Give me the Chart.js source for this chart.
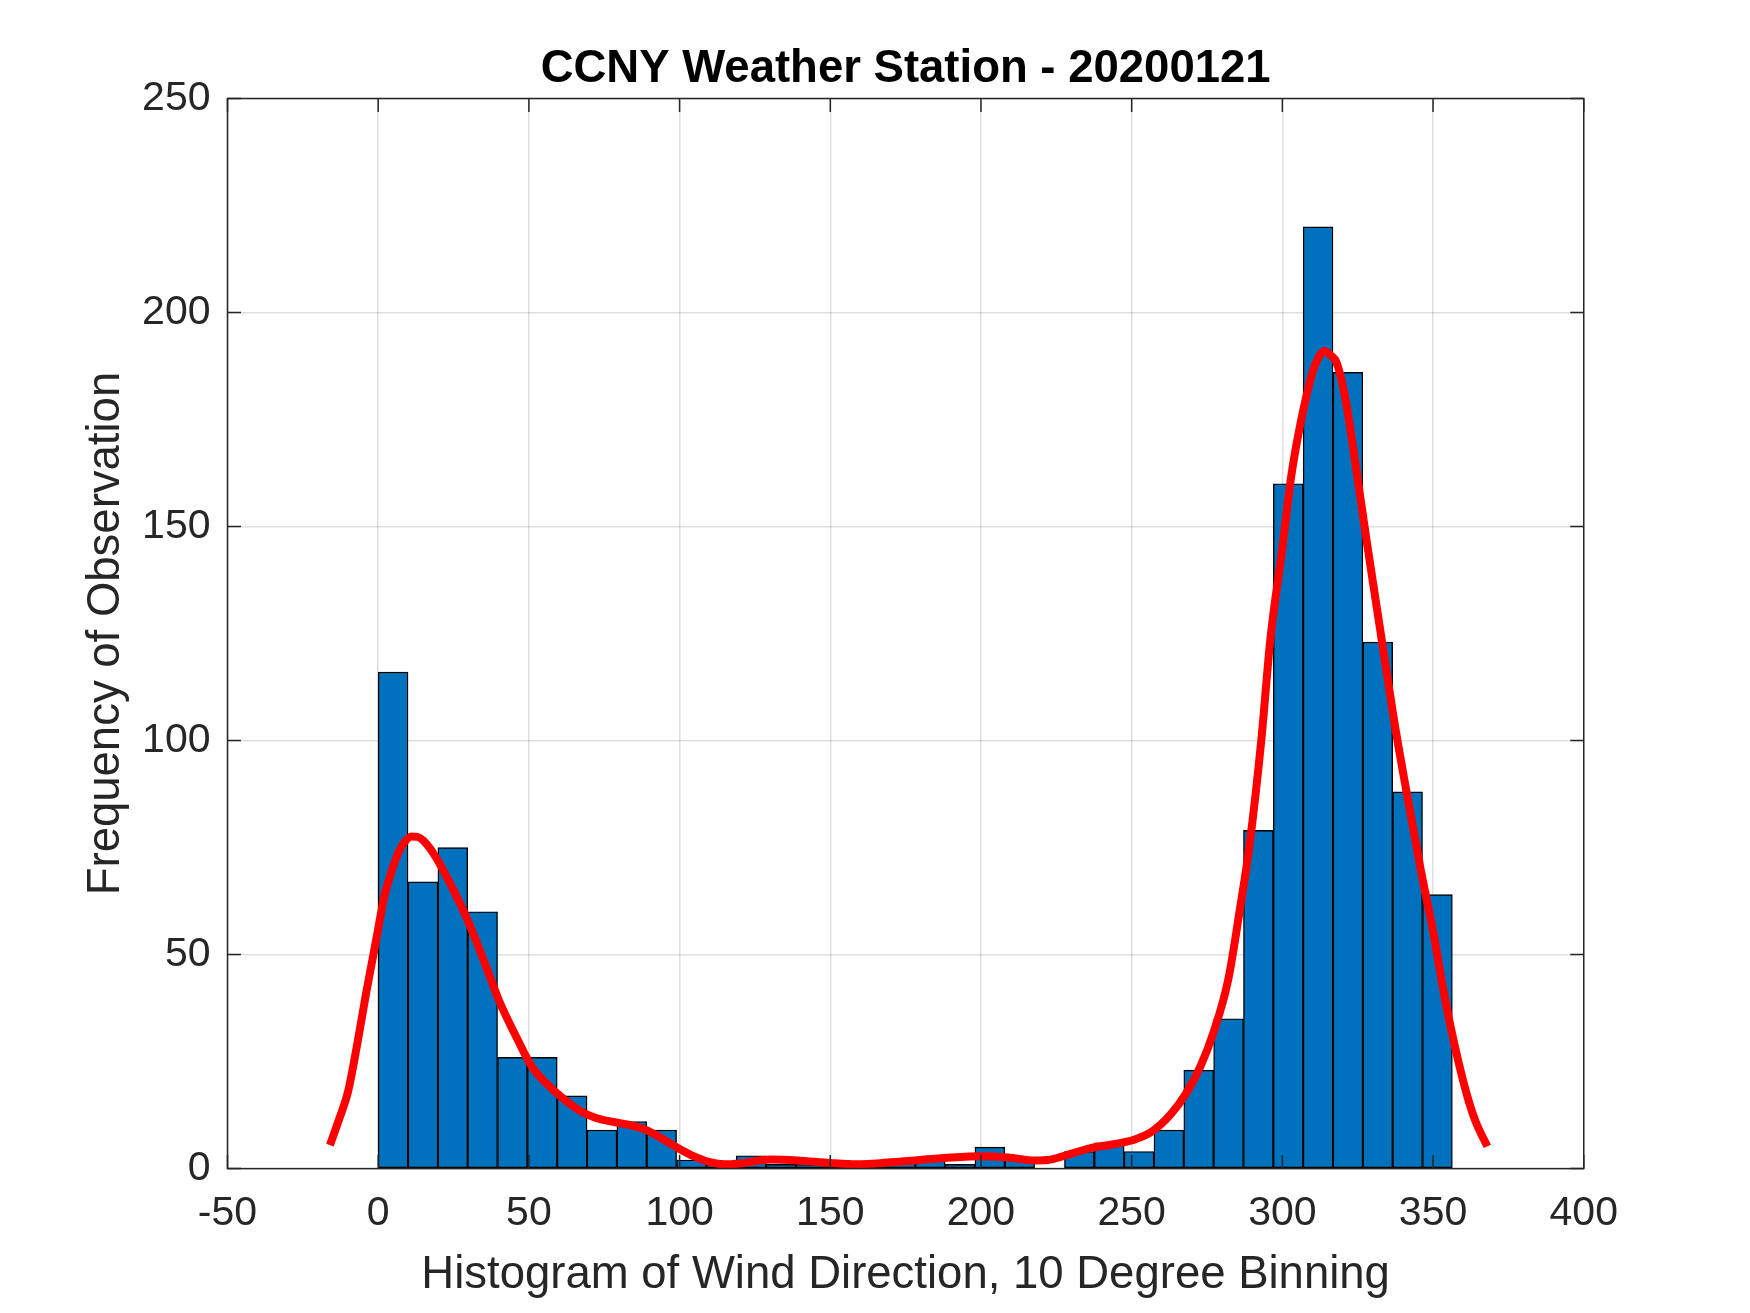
<!DOCTYPE html>
<html>
<head>
<meta charset="utf-8">
<title>CCNY Weather Station - 20200121</title>
<script src="https://cdn.jsdelivr.net/npm/chart.js@4.4.1/dist/chart.umd.min.js"></script>
<style>
  html, body { margin: 0; padding: 0; background: #fff; }
  canvas { display: block; }
</style>
</head>
<body>
<canvas id="grafico" width="1750" height="1313"></canvas>
<script>
// conteggi per ciascun bin (0..360, 36 bin)
const counts = [116, 67, 75, 60, 26, 26, 17, 9, 11, 9,
                2, 1, 3, 1, 1, 1, 1, 2, 2, 1,
                5, 2, 0, 4, 6, 4, 9, 23, 35, 79,
                160, 220, 186, 123, 88, 64];
const binStart = 0;
const binWidth = 9.9;

// curva di densita (stima kernel)
const kdeX = [-16, -13, -10, -7, -4, -2, 0, 2, 4, 7, 9, 11, 13, 15, 19, 25, 30, 36, 40, 46,
              51, 57, 61, 67, 72, 78, 84, 89, 95, 100, 105, 110, 115, 120, 130, 139, 150, 159, 169, 178,
              190, 200, 209, 218, 223, 230, 237, 244, 251, 257, 263, 268, 273, 277, 282, 286, 289, 293, 296, 300,
              303, 306, 310, 312, 314, 316, 318, 321, 325, 328, 332, 337, 341, 346, 350, 354, 357, 361, 364, 368];
const kdeY = [5.5, 11.5, 18, 28.9, 41, 48.5, 56, 63.5, 68.5, 74.3, 76.5, 77.6, 77.5, 76.6, 72.9, 65, 57.5, 46.8, 39.4, 30.5,
              23.8, 19.1, 16.6, 13.5, 11.9, 10.9, 10.1, 9, 6.7, 4.6, 2.8, 1.5, 1.0, 1.2, 2.1, 1.9, 1.3, 1.0, 1.4, 1.9,
              2.6, 2.9, 2.6, 1.9, 2.1, 3.5, 4.9, 5.7, 6.8, 8.8, 12.7, 17.5, 24.2, 31.5, 44, 61, 75, 100, 123.5, 145,
              162, 174, 186, 189.5, 191, 190, 188.3, 179.5, 161, 146.5, 128, 105, 88.8, 69.5, 55.5, 39.5, 29.3, 17.8, 11.2, 5.2];

const xMin = -50, xMax = 400, xStep = 50;
const yMin = 0, yMax = 250, yStep = 50;

const titleText = 'CCNY Weather Station - 20200121';
const xLabel = 'Histogram of Wind Direction, 10 Degree Binning';
const yLabel = 'Frequency of Observation';

const FONT = "'Liberation Sans', Arial, Helvetica, sans-serif";
const AXIS_COLOR = '#262626';
const TICK_LEN = 13.5;

// box e tacche interne come in MATLAB
const boxTicks = {
    id: 'boxTicks',
    afterDatasetsDraw(chart) {
        const { ctx, chartArea: a, scales: { x, y } } = chart;
        ctx.save();
        ctx.strokeStyle = AXIS_COLOR;
        ctx.lineWidth = 1.5;
        ctx.beginPath();
        x.ticks.forEach(t => {
            const px = x.getPixelForValue(t.value);
            ctx.moveTo(px, a.bottom); ctx.lineTo(px, a.bottom - TICK_LEN);
            ctx.moveTo(px, a.top); ctx.lineTo(px, a.top + TICK_LEN);
        });
        y.ticks.forEach(t => {
            const py = y.getPixelForValue(t.value);
            ctx.moveTo(a.left, py); ctx.lineTo(a.left + TICK_LEN, py);
            ctx.moveTo(a.right, py); ctx.lineTo(a.right - TICK_LEN, py);
        });
        ctx.stroke();
        ctx.strokeRect(a.left, a.top, a.right - a.left, a.bottom - a.top);
        ctx.restore();
    }
};

const barData = counts.map((c, i) => ({ x: binStart + (i + 0.5) * binWidth, y: c }));
const lineData = kdeX.map((v, i) => ({ x: v, y: kdeY[i] }));

const ctx = document.getElementById('grafico').getContext('2d');
new Chart(ctx, {
    type: 'bar',
    data: {
        datasets: [{
            type: 'line',
            data: lineData,
            borderColor: '#ff0000',
            borderWidth: 8,
            pointRadius: 0,
            fill: false,
            cubicInterpolationMode: 'monotone',
            order: 0
        }, {
            type: 'bar',
            data: barData,
            backgroundColor: '#0072bd',
            borderColor: '#000000',
            borderWidth: 1.4,
            borderSkipped: false,
            barPercentage: 1,
            categoryPercentage: 1,
            order: 1
        }]
    },
    options: {
        responsive: false,
        animation: false,
        devicePixelRatio: 1,
        layout: { autoPadding: false, padding: { left: 0, right: 166.25, top: 0, bottom: 0 } },
        plugins: {
            legend: { display: false },
            tooltip: { enabled: false },
            title: {
                display: true,
                fullSize: false,
                text: titleText,
                color: '#000',
                font: { family: FONT, size: 45.5, weight: 'bold', lineHeight: 1.1 },
                padding: { top: 44, bottom: 4.45 }
            }
        },
        scales: {
            x: {
                type: 'linear',
                min: xMin,
                max: xMax,
                offset: false,
                afterFit(s) { s.height = 144.4; },
                ticks: {
                    stepSize: xStep,
                    color: AXIS_COLOR,
                    font: { family: FONT, size: 41 },
                    padding: 20,
                    maxRotation: 0
                },
                grid: {
                    offset: false,
                    drawTicks: false,
                    color: 'rgba(38,38,38,0.15)',
                    lineWidth: 1.5
                },
                border: { display: false },
                title: {
                    display: true,
                    text: xLabel,
                    color: AXIS_COLOR,
                    font: { family: FONT, size: 45.5, lineHeight: 1.2 },
                    padding: { top: 0, bottom: 10 }
                }
            },
            y: {
                min: yMin,
                max: yMax,
                afterFit(s) { s.width = 227.5; },
                ticks: {
                    stepSize: yStep,
                    color: AXIS_COLOR,
                    font: { family: FONT, size: 41 },
                    padding: 17
                },
                grid: {
                    drawTicks: false,
                    color: 'rgba(38,38,38,0.15)',
                    lineWidth: 1.5
                },
                border: { display: false },
                title: {
                    display: true,
                    text: yLabel,
                    color: AXIS_COLOR,
                    font: { family: FONT, size: 45.5, lineHeight: 1.2 },
                    padding: { top: 79, bottom: 0 }
                }
            }
        }
    },
    plugins: [boxTicks]
});
</script>
</body>
</html>
